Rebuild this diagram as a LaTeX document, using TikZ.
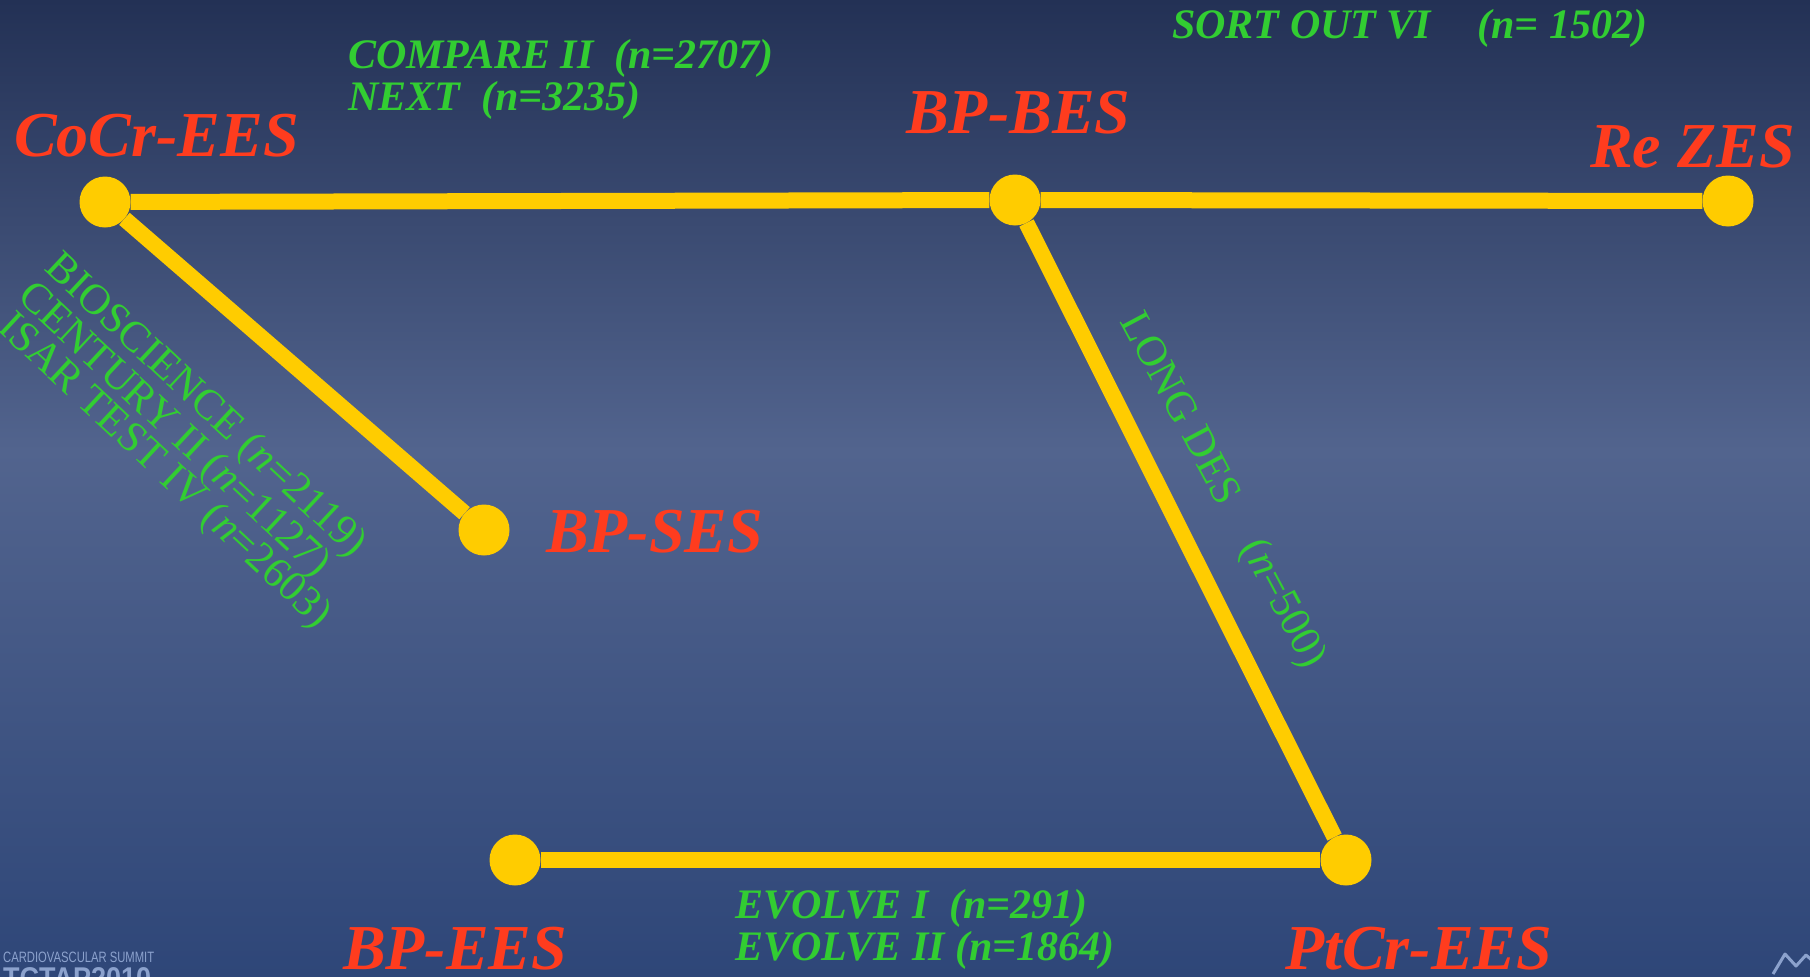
\documentclass[tikz,border=0pt]{standalone}
\usepackage{fontspec}
\setmainfont{Liberation Serif}
\newfontfamily\logofont{Liberation Sans}
\definecolor{bgtop}{RGB}{35,49,85}
\definecolor{bgmid}{RGB}{82,100,142}
\definecolor{bgbot}{RGB}{46,70,120}
\definecolor{stentred}{RGB}{255,60,30}
\definecolor{trialgreen}{RGB}{50,205,50}
\definecolor{linkyellow}{RGB}{255,204,0}
\definecolor{logoblue}{RGB}{140,162,205}
\begin{document}
\begin{tikzpicture}[x=1pt,y=-1pt,
  stentdot/.style={circle,fill=linkyellow,minimum size=51pt,inner sep=0pt},
  link/.style={draw=linkyellow,line width=16pt},
  stentlabel/.style={text=stentred,font=\fontsize{64}{64}\selectfont\bfseries\itshape,anchor=base west,inner sep=0pt},
  triallabel/.style={text=trialgreen,font=\fontsize{42}{42}\selectfont\bfseries\itshape,anchor=base west,inner sep=0pt},
  rotlabel/.style={text=trialgreen,font=\fontsize{43}{43}\selectfont,anchor=west,inner sep=0pt}]
\useasboundingbox (0,0) rectangle (1810,977);
\shade[top color=bgtop,bottom color=bgmid] (0,0) rectangle (1810,451);
\shade[top color=bgmid,bottom color=bgbot] (0,450) rectangle (1810,977);

% stents (dots)
\node[stentdot] (cocr) at (105,202) {};
\node[stentdot] (bpbes) at (1015,200) {};
\node[stentdot] (rezes) at (1728,201) {};
\node[stentdot] (bpses) at (484,530) {};
\node[stentdot] (bpees) at (515,860) {};
\node[stentdot] (ptcr) at (1346,860) {};

% links
\draw[link] (cocr) -- (bpbes);
\draw[link] (bpbes) -- (rezes);
\draw[link] (cocr) -- (bpses);
\draw[link] (bpbes) -- (ptcr);
\draw[link] (bpees) -- (ptcr);

% stent names
\node[stentlabel] (lcocr) at (14,156) {CoCr-EES};
\node[stentlabel] (lbpbes) at (906,133) {BP-BES};
\node[stentlabel] (lrezes) at (1590,167) {Re ZES};
\node[stentlabel] (lbpses) at (546,552) {BP-SES};
\node[stentlabel] (lbpees) at (343,969) {BP-EES};
\node[stentlabel] (lptcr) at (1285,969) {PtCr-EES};

% trials
\node[triallabel] (tcompare) at (348,68) {COMPARE II\hspace{0.5em}(n=2707)};
\node[triallabel] (tnext) at (348,110) {NEXT\hspace{0.5em}(n=3235)};
\node[triallabel] (tsort) at (1172,38) {SORT OUT VI\hspace{1.1em}(n= 1502)};
\node[triallabel] (tevo1) at (735,918) {EVOLVE I\hspace{0.5em}(n=291)};
\node[triallabel] (tevo2) at (735,960) {EVOLVE II (n=1864)};

\node[rotlabel,rotate=-43] (tbio) at (50,262) {BIOSCIENCE (\textit{n}=2119)};
\node[rotlabel,rotate=-43] (tcent) at (23,291) {CENTURY II (\textit{n}=1127)};
\node[rotlabel,rotate=-43] (tisar) at (3,322) {ISAR TEST IV (\textit{n}=2603)};
\node[rotlabel,rotate=-62] (tlong) at (1129,316) {LONG DES\hspace{1.05em}(\textit{n}=500)};

% logos
\node[anchor=base west,inner sep=0pt,text=logoblue,font=\logofont\fontsize{15}{15}\selectfont] (logoa) at (3,962) {\scalebox{0.75}[1]{CARDIOVASCULAR SUMMIT}};
\node[anchor=base west,inner sep=0pt,text=logoblue,font=\logofont\bfseries\fontsize{30}{30}\selectfont] (logob) at (3,988) {\scalebox{0.9}[1]{TCTAP2010}};
\draw[logoblue,line width=3pt,line join=round] (1773,974) -- (1785,954) -- (1796,966) -- (1806,955) -- (1815,963);
\end{tikzpicture}
\end{document}
